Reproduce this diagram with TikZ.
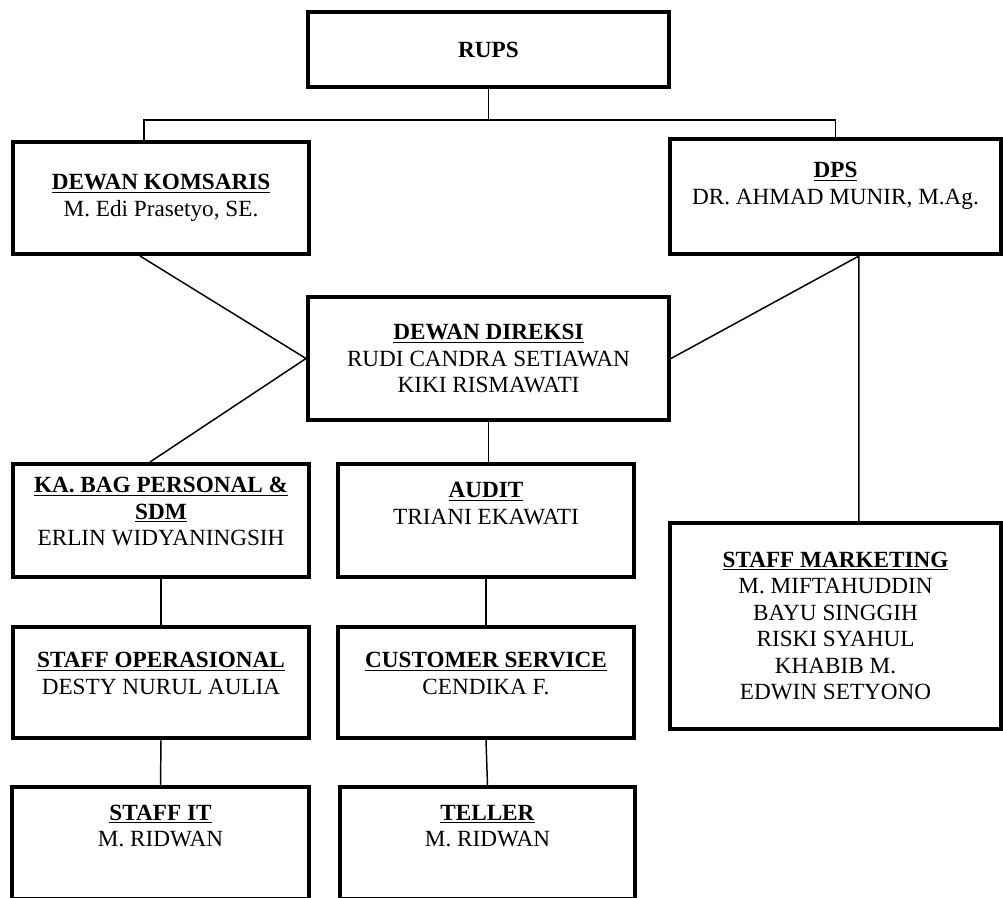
\documentclass[tikz,border=0pt]{standalone}
\usepackage{fontspec}
\setmainfont{Liberation Serif}
\usepackage{tikz}
\usetikzlibrary{shapes}
\usepackage{xcolor}

\begin{document}
\begin{tikzpicture}[x=0.75pt,y=-0.75pt,
  kotak/.style={draw,line width=3pt,align=center,inner sep=0pt,
    font=\fontsize{17.4}{19.8}\selectfont},
  garis/.style={line width=1.1pt,arrows={-},black!100}]
\newcommand{\judul}[1]{\underline{\textbf{#1}}}
\useasboundingbox (0,0) rectangle (1003,898);

\node[kotak,minimum width=270.75pt,minimum height=56.25pt] (rups) at (488.5,49.5) {\textbf{RUPS}};
\node[kotak,minimum width=222pt,minimum height=84pt] (komisaris) at (161,198)
  {\judul{DEWAN KOMSARIS}\\M. Edi Prasetyo, SE.};
\node[kotak,minimum width=248.25pt,minimum height=86.25pt] (dps) at (835.5,196.5)
  {\judul{DPS}\\DR. AHMAD MUNIR, M.Ag.\\[-6pt] \strut};
\node[kotak,minimum width=270.75pt,minimum height=92.25pt] (direksi) at (488.5,358.5)
  {\judul{DEWAN DIREKSI}\\RUDI CANDRA SETIAWAN\\KIKI RISMAWATI};
\node[kotak,minimum width=222pt,minimum height=84.75pt] (personal) at (161,520.5)
  {\judul{KA. BAG PERSONAL \&}\\\judul{SDM}\\ERLIN WIDYANINGSIH\\[-12pt] \strut};
\node[kotak,minimum width=222pt,minimum height=84.75pt] (audit) at (486,520.5)
  {\judul{AUDIT}\\TRIANI EKAWATI\\ \strut};
\node[kotak,minimum width=222pt,minimum height=83.25pt] (operasional) at (161,682.5)
  {\judul{STAFF OPERASIONAL}\\DESTY NURUL AULIA\\[-12pt] \strut};
\node[kotak,minimum width=222pt,minimum height=83.25pt] (cs) at (486,682.5)
  {\judul{CUSTOMER SERVICE}\\CENDIKA F.\\[-12pt] \strut};
\node[kotak,minimum width=222.75pt,minimum height=84pt] (it) at (160.5,843)
  {\judul{STAFF IT}\\M. RIDWAN\\ \strut};
\node[kotak,minimum width=221.25pt,minimum height=84pt] (teller) at (487.5,843)
  {\judul{TELLER}\\M. RIDWAN\\ \strut};
\node[kotak,minimum width=248.25pt,minimum height=154.5pt] (marketing) at (835.5,626)
  {\judul{STAFF MARKETING}\\M. MIFTAHUDDIN\\BAYU SINGGIH\\RISKI SYAHUL\\KHABIB M.\\EDWIN SETYONO};

% garis komando
\coordinate (cabang) at (488.5,120);
\draw[garis] (rups.south) -- (cabang);
\draw[garis] ([xshift=-12.75pt]komisaris.north) |- (cabang) -| (dps.north);
\draw[garis] ([xshift=-15.75pt]komisaris.south) -- (direksi.west) -- ([xshift=-8.25pt]personal.north);
\draw[garis] (direksi.east) -- ([xshift=17.6pt]dps.south) -- ([xshift=17.6pt]marketing.north);
\draw[garis] (direksi.south) -- (direksi.south |- audit.north);
\draw[garis] (personal.south) -- (operasional.north);
\draw[garis] (operasional.south) -- (it.north);
\draw[garis] (audit.south) -- (cs.north);
\draw[garis] (cs.south) -- (teller.north);

\end{tikzpicture}
\end{document}
